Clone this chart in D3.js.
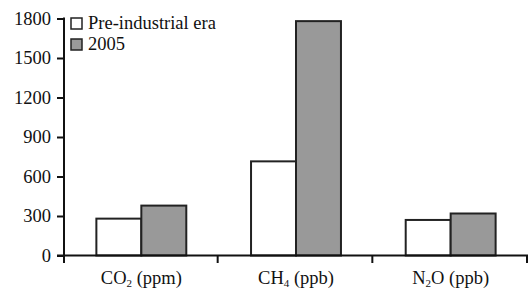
<!DOCTYPE html>
<html><head><meta charset="utf-8">
<script src="https://cdn.jsdelivr.net/npm/d3@7"></script>
<style>
body{margin:0;background:#fff;}
</style></head>
<body><svg id="c" width="529" height="290" font-family="Liberation Serif"></svg>
<script>
const categories = ["CO2", "CH4", "N2O"];
const catMain = ["CO", "CH", "N"];
const catSub = ["2", "4", "2"];
const catTail = [" (ppm)", " (ppb)", "O (ppb)"];
const series = ["Pre-industrial era", "2005"];
const preIndustrial = [280, 715, 270];
const y2005 = [379, 1780, 319];
const yTicks = [0, 300, 600, 900, 1200, 1500, 1800];
const colors = ["#ffffff", "#999999"];
const FS = 18.5;
const FONT = "Liberation Serif";

const svg = d3.select("#c");
const x = d3.scaleBand().domain(categories).range([64, 528]).padding(0);
const xs = d3.scaleBand().domain(series).range([0, x.bandwidth()]).paddingInner(0).paddingOuter(0.72);
const y = d3.scaleLinear().domain([0, 1800]).range([255.5, 18.5]);

const vals = [preIndustrial, y2005];
const g = svg.append("g");
categories.forEach((c, i) => {
  series.forEach((s, j) => {
    g.append("rect")
      .attr("x", x(c) + xs(s)).attr("width", xs.bandwidth())
      .attr("y", y(vals[j][i])).attr("height", y(0) - y(vals[j][i]))
      .attr("fill", colors[j]).attr("stroke", "#222").attr("stroke-width", 2);
  });
});

// Y axis
const ya = svg.append("g").attr("transform", "translate(64,0)")
  .call(d3.axisLeft(y).tickValues(yTicks).tickFormat(d3.format("d")).tickSize(7).tickSizeOuter(0).tickPadding(6));
ya.attr("font-family", FONT).attr("font-size", FS);
ya.selectAll(".tick text").attr("font-family", FONT).attr("fill", "#111");
ya.select(".domain").remove();
ya.selectAll(".tick line").attr("stroke", "#111").attr("stroke-width", 2);
svg.append("line").attr("x1", 64).attr("x2", 64).attr("y1", y(1800) - 1).attr("y2", 263)
  .attr("stroke", "#111").attr("stroke-width", 2);

// X axis
svg.append("line").attr("x1", 57).attr("x2", 528).attr("y1", y(0)).attr("y2", y(0))
  .attr("stroke", "#111").attr("stroke-width", 2);
const bounds = categories.map(c => x(c)).concat([x.range()[1]]);
bounds.slice(1).forEach(b => {
  svg.append("line").attr("x1", b - 1).attr("x2", b - 1).attr("y1", y(0)).attr("y2", 263)
    .attr("stroke", "#111").attr("stroke-width", 2);
});
categories.forEach((c, i) => {
  const t = svg.append("text").attr("x", x(c) + x.bandwidth() / 2).attr("y", 284)
    .attr("text-anchor", "middle").attr("font-size", FS).attr("font-family", FONT).attr("fill", "#111");
  t.append("tspan").text(catMain[i]);
  t.append("tspan").attr("font-size", 11).attr("dy", 3).text(catSub[i]);
  t.append("tspan").attr("dy", -3).text(catTail[i]);
});

// Legend
series.forEach((s, j) => {
  svg.append("rect").attr("x", 71).attr("y", 18 + j * 21).attr("width", 11).attr("height", 11)
    .attr("fill", colors[j]).attr("stroke", "#222").attr("stroke-width", 1.5);
  svg.append("text").attr("x", 88).attr("y", 28.5 + j * 21).attr("font-size", FS)
    .attr("font-family", FONT).attr("fill", "#111").text(s);
});
</script></body></html>
